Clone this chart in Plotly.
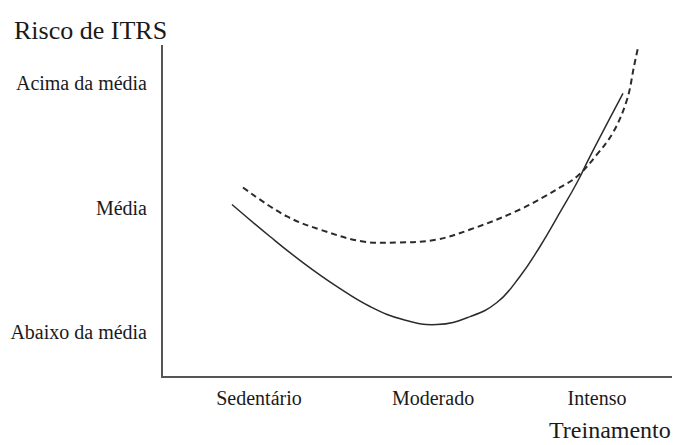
import plotly.graph_objects as go

# Data
y_levels = [1, 2, 3]
y_labels = ["Abaixo da média", "Média", "Acima da média"]
x_levels = [1, 2.03, 3]
x_labels = ["Sedentário", "Moderado", "Intenso"]

solid_x = [0.840, 1.065, 1.260, 1.462, 1.657, 1.852, 2.053, 2.249, 2.408, 2.544, 2.663, 2.781, 2.882, 2.959, 3.154]
solid_y = [2.024, 1.767, 1.558, 1.365, 1.205, 1.100, 1.060, 1.124, 1.237, 1.446, 1.687, 1.960, 2.201, 2.410, 2.916]

dashed_x = [0.905, 1.166, 1.361, 1.615, 1.817, 2.053, 2.249, 2.544, 2.781, 2.882, 3.000, 3.095, 3.178, 3.219, 3.243]
dashed_y = [2.161, 1.928, 1.823, 1.727, 1.719, 1.743, 1.823, 1.984, 2.161, 2.249, 2.426, 2.602, 2.867, 3.133, 3.285]

FONT = "Liberation Serif"
INK = "#2b2b2b"
TXT = "#1a1a1a"

fig = go.Figure()
fig.add_trace(go.Scatter(x=dashed_x, y=dashed_y, mode="lines",
                         line=dict(color=INK, width=2, dash="6px,4px", shape="spline", smoothing=1.1),
                         showlegend=False, hoverinfo="skip"))
fig.add_trace(go.Scatter(x=solid_x, y=solid_y, mode="lines",
                         line=dict(color=INK, width=1.5, shape="spline", smoothing=1.3),
                         showlegend=False, hoverinfo="skip"))

fig.update_layout(
    width=675, height=445,
    margin=dict(l=163, r=3, t=45, b=69, autoexpand=False),
    paper_bgcolor="white", plot_bgcolor="white",
    font=dict(family=FONT, color=TXT, size=20),
    xaxis=dict(range=[0.432, 3.444], tickvals=x_levels, ticktext=x_labels, automargin=False,
               showgrid=False, zeroline=False, showline=True, linecolor="#555", linewidth=2,
               ticks="", ticklabelstandoff=3, tickfont=dict(family=FONT, size=20, color=TXT)),
    yaxis=dict(range=[0.647, 3.305], tickvals=y_levels, ticktext=y_labels, automargin=False,
               showgrid=False, zeroline=False, showline=True, linecolor="#555", linewidth=2,
               ticks="", ticklabelstandoff=10, tickfont=dict(family=FONT, size=20, color=TXT)),
    annotations=[
        dict(text="Risco de ITRS", xref="paper", yref="paper", x=-151/509, y=1 + 15/331,
             xanchor="left", yanchor="middle", showarrow=False, font=dict(family=FONT, size=26, color=TXT)),
        dict(text="Treinamento", xref="paper", yref="paper", x=1 + 1/509, y=-(430 - 376)/331,
             xanchor="right", yanchor="middle", showarrow=False, font=dict(family=FONT, size=24, color=TXT)),
    ],
)

fig.write_html("out.html", config={"displayModeBar": False},
               post_script="document.body.style.margin='0';document.body.style.overflow='hidden';")
